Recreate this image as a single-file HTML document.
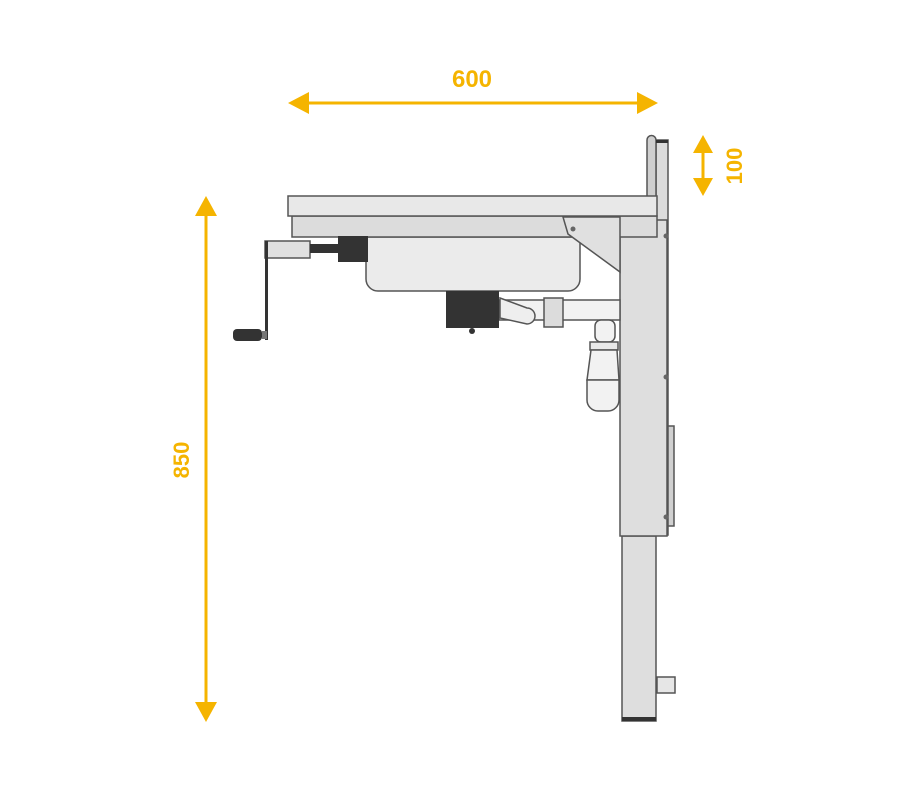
<!DOCTYPE html>
<html><head><meta charset="utf-8"><style>
html,body{margin:0;padding:0;background:#fff;}
svg{display:block;}
text{font-family:"Liberation Sans",sans-serif;font-weight:bold;fill:#f5b400;}
</style></head><body>
<svg width="912" height="800" viewBox="0 0 912 800" xmlns="http://www.w3.org/2000/svg">
<g stroke="#f5b400" stroke-width="3" fill="#f5b400">
  <line x1="300" y1="103" x2="646" y2="103"/>
  <polygon points="288,103 309,92 309,114" stroke="none"/>
  <polygon points="658,103 637,92 637,114" stroke="none"/>
  <line x1="703" y1="150" x2="703" y2="182"/>
  <polygon points="703,135 693,153 713,153" stroke="none"/>
  <polygon points="703,196 693,178 713,178" stroke="none"/>
  <line x1="206" y1="210" x2="206" y2="708"/>
  <polygon points="206,196 195,216 217,216" stroke="none"/>
  <polygon points="206,722 195,702 217,702" stroke="none"/>
</g>
<text x="472" y="87" font-size="24" text-anchor="middle">600</text>
<text transform="translate(742,166) rotate(-90)" font-size="22" text-anchor="middle">100</text>
<text transform="translate(189,460) rotate(-90)" font-size="22" text-anchor="middle">850</text>

<g stroke="#555" stroke-width="1.5" fill="#dedede">
  <rect x="622" y="536" width="34" height="185"/>
  <rect x="657" y="677" width="18" height="16" fill="#e6e6e6"/>
  <rect x="656" y="140" width="12" height="395" fill="#dcdcdc"/>
  <rect x="668" y="426" width="6" height="100" fill="#d0d0d0"/>
  <path d="M647,197 V140 a4.5,4.5 0 0 1 9,0 V197 Z" fill="#cfcfcf"/>
  <rect x="620" y="220" width="47" height="316"/>
  <rect x="499" y="300" width="121" height="20" fill="#f2f2f2"/>
  <rect x="544" y="298" width="19" height="29" fill="#dcdcdc"/>
  <path d="M500,298 L527,308 a8,8 0 0 1 0,16 L500,318 Z" fill="#eee"/>
  <rect x="595" y="320" width="20" height="22" rx="6" fill="#f2f2f2"/>
  <rect x="590" y="342" width="28" height="8" fill="#e8e8e8"/>
  <path d="M591,350 L617,350 L619,380 L587,380 Z" fill="#f2f2f2"/>
  <path d="M587,380 H619 V400 a11,11 0 0 1 -11,11 H598 a11,11 0 0 1 -11,-11 Z" fill="#f2f2f2"/>
  <path d="M366,237 H580 V279 a12,12 0 0 1 -12,12 H378 a12,12 0 0 1 -12,-12 Z" fill="#ebebeb"/>
  <rect x="292" y="216" width="365" height="21" fill="#dcdcdc"/>
  <rect x="288" y="196" width="369" height="20" fill="#e8e8e8"/>
  <polygon points="563,217 620,217 620,272 568,234" fill="#e0e0e0"/>
  <rect x="265" y="241" width="45" height="17" fill="#e0e0e0"/>
  <rect x="265" y="241" width="3" height="99" fill="#333" stroke="none"/>
</g>
<g fill="#333">
  <rect x="446" y="291" width="53" height="37"/>
  <circle cx="472" cy="331" r="3"/>
  <rect x="310" y="244" width="28" height="9"/>
  <rect x="338" y="236" width="30" height="26"/>
  <rect x="233" y="329" width="29" height="12" rx="4"/>
  <rect x="262" y="331" width="5" height="8" fill="#777"/>
  <rect x="622" y="717" width="34" height="4"/>
  <rect x="656" y="140" width="12" height="3"/>
  <circle cx="573" cy="229" r="2.5" fill="#666"/>
  <circle cx="666" cy="236" r="2.5" fill="#666"/>
  <circle cx="666" cy="377" r="2.5" fill="#666"/>
  <circle cx="666" cy="517" r="2.5" fill="#666"/>
</g>
</svg>
</body></html>
